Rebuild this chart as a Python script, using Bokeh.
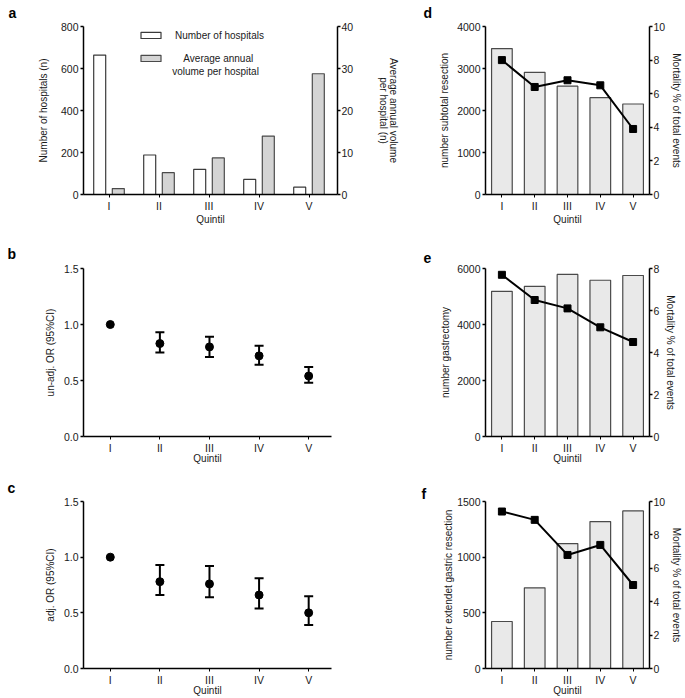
from bokeh.plotting import figure
from bokeh.models import (Range1d, LinearAxis, FixedTicker, Whisker, ColumnDataSource,
                          Label, Legend, LegendItem, TeeHead, PrintfTickFormatter)
from bokeh.layouts import row, column
from bokeh.embed import file_html
from bokeh.resources import INLINE

# ---------------- data ----------------
quintils = ["I", "II", "III", "IV", "V"]

n_hospitals = [664, 188, 120, 72, 35]
avg_volume = [1.4, 5.2, 8.7, 13.9, 28.75]

or_unadj = [1.0, 0.83, 0.80, 0.72, 0.54]
or_unadj_lo = [None, 0.75, 0.71, 0.64, 0.48]
or_unadj_hi = [None, 0.93, 0.89, 0.81, 0.62]

or_adj = [1.0, 0.78, 0.76, 0.66, 0.50]
or_adj_lo = [None, 0.66, 0.64, 0.54, 0.39]
or_adj_hi = [None, 0.93, 0.92, 0.81, 0.65]

subtotal_n = [3475, 2910, 2580, 2305, 2155]
subtotal_mort = [8.0, 6.4, 6.8, 6.5, 3.9]

gastrectomy_n = [5185, 5365, 5790, 5580, 5750]
gastrectomy_mort = [7.7, 6.5, 6.1, 5.2, 4.5]

extended_n = [422, 725, 1122, 1320, 1415]
extended_mort = [9.4, 8.9, 6.8, 7.4, 5.0]

ticks_a_left = [0, 200, 400, 600, 800]
ticks_a_right = [0, 10, 20, 30, 40]
ticks_or = [0.0, 0.5, 1.0, 1.5]
ticks_d_left = [0, 1000, 2000, 3000, 4000]
ticks_e_left = [0, 2000, 4000, 6000]
ticks_f_left = [0, 500, 1000, 1500]
ticks_mort10 = [0, 2, 4, 6, 8, 10]
ticks_mort8 = [0, 2, 4, 6, 8]

# ---------------- style helpers ----------------
FONT = "Liberation Sans"
TXT = "#1a1a1a"
xs = [i + 1 for i in range(len(quintils))]
overrides = {x: q for x, q in zip(xs, quintils)}


def style_axis(ax, standoff=5, tick_width=1.5):
    ax.axis_line_width = 1.5
    ax.axis_line_color = "black"
    ax.major_tick_line_width = tick_width
    ax.major_tick_line_color = "black"
    ax.major_tick_out = 3
    ax.major_tick_in = 0
    ax.minor_tick_line_color = None
    ax.major_label_text_font = FONT
    ax.major_label_text_font_size = "10.5px"
    ax.major_label_text_color = TXT
    ax.major_label_standoff = 2
    ax.axis_label_text_font = FONT
    ax.axis_label_text_font_size = "10px"
    ax.axis_label_text_font_style = "normal"
    ax.axis_label_text_color = TXT
    ax.axis_label_standoff = standoff


def make_fig(width, height, left, right, top, bottom, xr, yr, yticks, ylabel, ystand,
             letter, loff, lstand, lvalign, qstand):
    p = figure(width=width, height=height, x_range=Range1d(*xr), y_range=Range1d(*yr),
               output_backend="svg", toolbar_location=None,
               min_border_left=left, min_border_right=right,
               min_border_top=top, min_border_bottom=bottom)
    p.xgrid.visible = False
    p.ygrid.visible = False
    p.outline_line_color = None
    p.background_fill_color = "white"
    p.border_fill_color = "white"
    # panel letter
    p.title.text = letter
    p.title.align = "left"
    p.title.vertical_align = lvalign
    p.title.offset = loff
    p.title.standoff = lstand
    p.title.text_font = FONT
    p.title.text_font_size = "14px"
    p.title.text_font_style = "bold"
    p.title.text_color = "black"
    # x axis
    xa = p.xaxis[0]
    xa.ticker = FixedTicker(ticks=xs)
    xa.major_label_overrides = overrides
    xa.axis_label = "Quintil"
    style_axis(xa, standoff=qstand, tick_width=1)
    # left y axis
    ya = p.yaxis[0]
    ya.ticker = FixedTicker(ticks=yticks)
    ya.axis_label = ylabel
    style_axis(ya, standoff=ystand)
    return p


def add_right_axis(p, name, rng, ticks, label, standoff):
    p.extra_y_ranges = {name: Range1d(*rng)}
    ax = LinearAxis(y_range_name=name, axis_label=label)
    ax.ticker = FixedTicker(ticks=ticks)
    style_axis(ax, standoff=standoff)
    ax.major_label_standoff = 1
    p.add_layout(ax, "right")
    return ax


LW_A = 406
LW = 400
RW = 279
RL = 485 - LW_A  # left border of the right-hand panels

# ---------------- panel a ----------------
pa = make_fig(LW_A, 232, 83, LW_A - 83 - 254, 26, 38, (0.49, 5.57), (0, 800), ticks_a_left,
              "Number of hospitals (n)", 9, "a", -75, 8, "top", -1)
ra = add_right_axis(pa, "vol", (0, 40), ticks_a_right, "Average annual volume\nper hospital (n)", 22)
ra.axis_label_text_line_height = 0.85
r_white = pa.vbar(x=[x - 0.186 for x in xs], top=n_hospitals, width=0.24, bottom=0,
                  fill_color="white", line_color="#3a3a3a", line_width=1.2)
r_gray = pa.vbar(x=[x + 0.186 for x in xs], top=avg_volume, width=0.24, bottom=0,
                 y_range_name="vol", fill_color="#d4d4d4", line_color="#4a4a4a", line_width=1.2)
legend = Legend(items=[LegendItem(label="Number of hospitals", renderers=[r_white]),
                       LegendItem(label="\u00a0\u00a0\u00a0Average annual", renderers=[r_gray])],
                location=(55, 130), orientation="vertical")
legend.background_fill_alpha = 0
legend.border_line_color = None
legend.padding = 0
legend.margin = 0
legend.spacing = 11
legend.glyph_width = 25
legend.glyph_height = 8
legend.label_standoff = 12
legend.label_height = 12
legend.label_text_font = FONT
legend.label_text_font_size = "10px"
legend.label_text_color = TXT
pa.add_layout(legend)
# second line of the legend label (inside the plot frame, data units)
pa.add_layout(Label(x=0.49 + 132 / 50, y=800 * (168 - 45) / 168, text="volume per hospital",
                    text_font=FONT, text_font_size="10px", text_color=TXT,
                    text_align="center", text_baseline="middle"))


# ---------------- panels b, c ----------------
def or_panel(height, top, bottom, vals, lo, hi, ylabel, ystand, letter, lstand, qstand):
    p = make_fig(LW, height, 83, 67, top, bottom, (0.46, 5.46), (0, 1.5), ticks_or, ylabel, ystand,
                 letter, -76, lstand, "top", qstand)
    p.yaxis[0].formatter = PrintfTickFormatter(format="%.1f")
    wx = [x for x, l in zip(xs, lo) if l is not None]
    wl = [l for l in lo if l is not None]
    wh = [h for h in hi if h is not None]
    src = ColumnDataSource(data=dict(x=wx, lo=wl, hi=wh))
    w = Whisker(source=src, base="x", lower="lo", upper="hi", line_width=2, line_color="black",
                upper_head=TeeHead(size=9, line_width=2, line_color="black"),
                lower_head=TeeHead(size=9, line_width=2, line_color="black"))
    p.add_layout(w)
    p.scatter(x=xs, y=vals, size=8, marker="circle", color="black")
    return p


pb = or_panel(234, 36, 30, or_unadj, or_unadj_lo, or_unadj_hi, "un-adj. OR (95%CI)", 5, "b", 9, -4)
pc = or_panel(232, 35, 29, or_adj, or_adj_lo, or_adj_hi, "adj. OR (95%CI)", 5, "c", 7, -4)


# ---------------- panels d, e, f ----------------
def vol_panel(height, top, bottom, counts, ymax, lticks, ylabel, lstand, mort, mmax, mticks,
              letter, loff, tstand, tvalign, qstand):
    p = make_fig(RW, height, RL, RW - RL - 169, top, bottom, (0.5, 5.5), (0, ymax), lticks,
                 ylabel, lstand, letter, loff, tstand, tvalign, qstand)
    add_right_axis(p, "mort", (0, mmax), mticks, "Mortality % of total events", 3)
    p.vbar(x=xs, top=counts, width=0.63, bottom=0, fill_color="#e9e9e9",
           line_color="#4a4a4a", line_width=1.2)
    p.line(x=xs, y=mort, y_range_name="mort", line_color="black", line_width=2)
    p.scatter(x=xs, y=mort, y_range_name="mort", marker="square", size=7, color="black")
    return p


pd_ = vol_panel(232, 26, 38, subtotal_n, 4000, ticks_d_left, "number subtotal resection", 4,
                subtotal_mort, 10, ticks_mort10, "d", -62, 8, "top", -1)
pe = vol_panel(234, 36, 30, gastrectomy_n, 6000, ticks_e_left, "number gastrectomy", 3,
               gastrectomy_mort, 8, ticks_mort8, "e", -62, 7, "top", -4)
pf = vol_panel(232, 35, 29, extended_n, 1500, ticks_f_left, "number extendet gastric resection", 0,
               extended_mort, 10, ticks_mort10, "f", -64, 0, "bottom", -4)

layout = row(column(pa, pb, pc), column(pd_, pe, pf))

open("out.html", "w").write(file_html(layout, INLINE))
